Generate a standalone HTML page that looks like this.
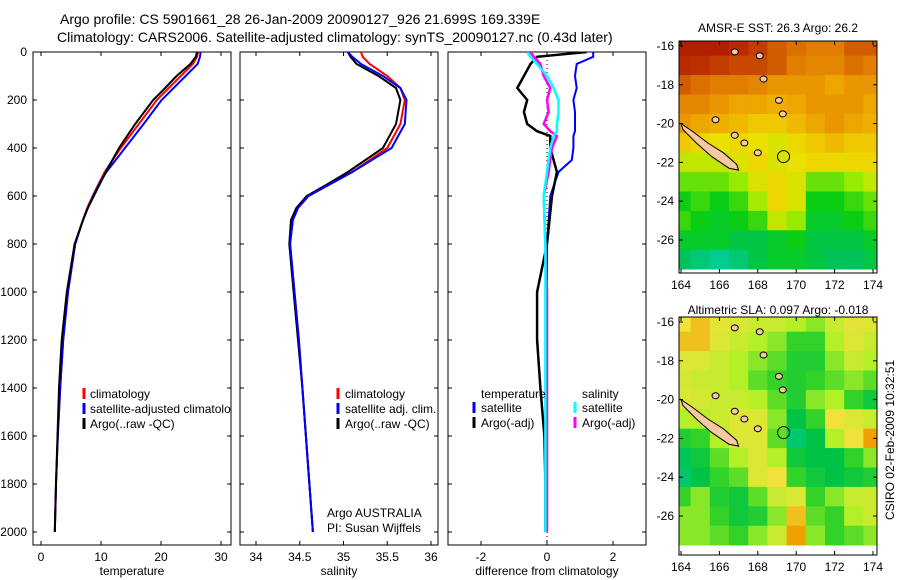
<!DOCTYPE html>
<html><head><meta charset="utf-8"><style>
body{margin:0;background:#fff}
svg{display:block;font-family:"Liberation Sans",sans-serif}
text{font-size:12px;fill:#000}
</style></head><body>
<svg id="fig" width="900" height="580" viewBox="0 0 900 580" xmlns="http://www.w3.org/2000/svg">
<defs>
<clipPath id="c1"><rect x="33" y="52" width="198" height="493"/></clipPath>
<clipPath id="c2"><rect x="240" y="52" width="198" height="493"/></clipPath>
<clipPath id="c3"><rect x="448" y="52" width="198" height="493"/></clipPath>
<clipPath id="cm1"><rect x="679" y="41" width="198" height="232"/></clipPath>
<clipPath id="cm2"><rect x="679" y="317" width="198" height="238"/></clipPath>
</defs>
<text x="60" y="24" style="font-size:14px">Argo profile: CS 5901661_28 26-Jan-2009 20090127_926 21.699S 169.339E</text>
<text x="57" y="42" style="font-size:14px">Climatology: CARS2006. Satellite-adjusted climatology: synTS_20090127.nc (0.43d later)</text>
<text x="778" y="32" text-anchor="middle">AMSR-E SST: 26.3 Argo: 26.2</text>
<text x="778" y="314" text-anchor="middle">Altimetric SLA: 0.097 Argo: -0.018</text>
<text transform="translate(894,440) rotate(-90)" text-anchor="middle">CSIRO 02-Feb-2009 10:32:51</text>
<g id="g"></g>
</svg>
<script>
// ---------- data ----------
const depthT = [0,20,50,100,150,200,300,400,500,550,600,650,700,800,1000,1200,1400,1600,1800,2000];
const tempClim = [26.2,26.0,25.3,23.3,21.3,19.3,16.3,13.3,10.6,9.6,8.6,7.7,7.0,5.7,4.5,3.7,3.2,2.8,2.5,2.3];
const tempSat  = [26.6,26.5,26.1,24.1,22.1,20.1,17.1,14.0,10.9,9.7,8.7,7.8,7.0,5.7,4.5,3.7,3.2,2.8,2.5,2.3];
const tempArgo = [26.0,25.8,24.9,22.6,20.7,18.7,15.7,13.0,10.8,9.8,8.8,7.8,7.0,5.6,4.3,3.45,3.0,2.75,2.5,2.3];
const salClim = [35.2,35.22,35.3,35.5,35.65,35.7,35.65,35.5,35.1,34.85,34.6,34.48,34.42,34.39,34.44,34.49,34.53,34.57,34.61,34.65];
const salSat  = [35.05,35.1,35.2,35.45,35.65,35.72,35.7,35.55,35.1,34.85,34.6,34.48,34.42,34.39,34.44,34.49,34.53,34.57,34.61,34.65];
const salArgo = [35.05,35.08,35.15,35.4,35.6,35.65,35.6,35.45,35.05,34.82,34.58,34.46,34.4,34.38,34.43,34.48,34.53,34.57,34.61,34.65];
const depthD = [0,20,50,100,150,200,250,300,330,350,400,450,500,600,800,1000,1200,1400,1600,1800,2000];
const dTempSat  = [1.4,1.4,0.9,0.85,0.9,0.8,0.85,0.85,0.85,0.8,0.8,0.75,0.35,0.1,0.0,0.0,0.0,0.0,0.0,0.0,0.0];
const dTempArgo = [1.2,-0.3,-0.5,-0.7,-0.9,-0.6,-0.7,-0.6,-0.3,0.1,0.1,0.2,0.3,0.15,0.0,-0.3,-0.3,-0.2,-0.08,-0.05,-0.05];
const dSalSat   = [-0.6,-0.5,-0.3,0.0,0.2,0.35,0.35,0.3,0.3,0.2,0.1,0.05,0.0,-0.1,-0.05,-0.05,-0.05,-0.05,-0.05,-0.05,-0.05];
const dSalArgo  = [-0.5,-0.4,-0.2,-0.1,0.1,0.0,0.05,-0.1,0.1,0.3,0.15,0.1,0.05,-0.1,-0.05,0.0,0.0,0.0,0.0,0.0,0.0];
const depthTicks = [0,200,400,600,800,1000,1200,1400,1600,1800,2000];
const tempTicks = [0,10,20,30];
const salTicks = [34,34.5,35,35.5,36];
const salTickLabels = ["34","34.5","35","35.5","36"];
const diffTicks = [-2,0,2];
const lonTicks = [164,166,168,170,172,174];
const latTicks = [16,18,20,22,24,26];
const mapLats = [16,17,18,19,20,21,22,23,24,25,26,27];
const mapLons = [164,165,166,167,168,169,170,171,172,173,174];
const sstGrid = [
[0.95,0.95,0.95,0.93,0.9,0.85,0.82,0.8,0.8,0.85,0.85],
[0.93,0.92,0.9,0.88,0.88,0.85,0.8,0.78,0.78,0.82,0.8],
[0.85,0.82,0.8,0.8,0.78,0.75,0.75,0.75,0.72,0.75,0.75],
[0.78,0.78,0.75,0.72,0.72,0.7,0.72,0.75,0.75,0.75,0.72],
[0.75,0.72,0.7,0.68,0.65,0.65,0.68,0.72,0.75,0.72,0.7],
[0.65,0.62,0.6,0.62,0.6,0.58,0.62,0.65,0.68,0.65,0.65],
[0.55,0.55,0.55,0.58,0.62,0.58,0.6,0.62,0.62,0.62,0.62],
[0.45,0.45,0.45,0.5,0.58,0.62,0.58,0.45,0.45,0.5,0.55],
[0.35,0.4,0.35,0.4,0.52,0.62,0.58,0.35,0.35,0.4,0.45],
[0.4,0.35,0.3,0.35,0.4,0.55,0.5,0.3,0.3,0.35,0.4],
[0.3,0.3,0.3,0.25,0.25,0.3,0.35,0.25,0.25,0.25,0.3],
[0.2,0.15,0.1,0.15,0.25,0.3,0.3,0.25,0.2,0.2,0.25]];
const slaGrid = [
[0.75,0.8,0.72,0.7,0.65,0.65,0.6,0.55,0.65,0.72,0.7],
[0.8,0.8,0.7,0.65,0.6,0.55,0.45,0.45,0.6,0.7,0.65],
[0.7,0.7,0.65,0.6,0.55,0.5,0.4,0.4,0.55,0.65,0.6],
[0.68,0.65,0.65,0.6,0.5,0.45,0.4,0.45,0.5,0.55,0.5],
[0.7,0.68,0.65,0.65,0.6,0.5,0.4,0.55,0.6,0.45,0.35],
[0.6,0.6,0.65,0.7,0.7,0.55,0.3,0.45,0.75,0.7,0.65],
[0.4,0.45,0.6,0.7,0.7,0.5,0.2,0.3,0.6,0.75,0.85],
[0.25,0.35,0.5,0.6,0.7,0.6,0.35,0.3,0.3,0.45,0.55],
[0.2,0.3,0.45,0.5,0.7,0.75,0.45,0.35,0.3,0.35,0.4],
[0.45,0.55,0.4,0.35,0.5,0.65,0.7,0.45,0.55,0.65,0.65],
[0.55,0.55,0.45,0.35,0.4,0.55,0.8,0.5,0.45,0.6,0.65],
[0.55,0.55,0.5,0.45,0.55,0.65,0.85,0.55,0.45,0.5,0.55]];
const newCal = [[164.0,20.0],[164.6,20.4],[165.4,21.0],[166.2,21.5],[166.9,22.1],[167.0,22.4],[166.5,22.3],[165.6,21.7],[164.8,21.0],[164.1,20.3]];
const argoPos = [169.34,21.70];

// ---------- helpers ----------
const NS="http://www.w3.org/2000/svg";
const G=document.getElementById('g');
function el(tag,attrs,parent){const e=document.createElementNS(NS,tag);for(const k in attrs)e.setAttribute(k,attrs[k]);(parent||G).appendChild(e);return e;}
const yD = d => 52 + d*0.24;
const xT = v => 41 + v*6;
const xS = v => 256 + (v-34)*87.5;
const xDf = v => 547 + v*33;
function lineFrom(xs,ds,xf,color,w,clip,name){
  const pts=xs.map((v,i)=>xf(v).toFixed(1)+','+yD(ds[i]).toFixed(1)).join(' ');
  const p=el('polyline',{points:pts,fill:'none',stroke:color,'stroke-width':w,'clip-path':'url(#'+clip+')'});
  
  
}
function panel(x0,clip,xf,ticks,labels,xlabel,name){
  const f=el('rect',{x:x0,y:52,width:198,height:493,fill:'none',stroke:'#000','stroke-width':1});
  
  
  depthTicks.forEach(d=>{
    el('line',{x1:x0,x2:x0+4,y1:yD(d),y2:yD(d),stroke:'#000'});
    el('line',{x1:x0+198,x2:x0+194,y1:yD(d),y2:yD(d),stroke:'#000'});
  });
  ticks.forEach((v,i)=>{
    const x=xf(v);
    el('line',{x1:x,x2:x,y1:545,y2:541,stroke:'#000'});
    el('line',{x1:x,x2:x,y1:52,y2:56,stroke:'#000'});
    const t=el('text',{x:x,y:561,'text-anchor':'middle'});t.textContent=labels[i];
    
    
  });
  const t=el('text',{x:x0+99,y:575,'text-anchor':'middle'});t.textContent=xlabel;
  
  
}
function legend(x,y,color,label,name){
  if(color) el('line',{x1:x,x2:x,y1:y-10,y2:y+1,stroke:color,'stroke-width':3});
  const t=el('text',{x:x+7,y:y});t.textContent=label;
  
  
}

// ---------- profile panels ----------
panel(33,'c1',xT,tempTicks,tempTicks.map(String),'temperature','temperature-panel');
panel(240,'c2',xS,salTicks,salTickLabels,'salinity','salinity-panel');
panel(448,'c3',xDf,diffTicks,diffTicks.map(String),'difference from climatology','difference-panel');
depthTicks.forEach(d=>{
  const t=el('text',{x:27,y:yD(d)+4,'text-anchor':'end'});t.textContent=String(d);
  
  
});
lineFrom(tempClim,depthT,xT,'#f00',2,'c1','temp-climatology-line');
lineFrom(tempSat,depthT,xT,'#00f',2,'c1','temp-satellite-line');
lineFrom(tempArgo,depthT,xT,'#000',2,'c1','temp-argo-line');
lineFrom(salClim,depthT,xS,'#f00',2,'c2','sal-climatology-line');
lineFrom(salArgo,depthT,xS,'#000',2,'c2','sal-argo-line');
lineFrom(salSat,depthT,xS,'#00f',2,'c2','sal-satellite-line');
const zl=el('line',{x1:xDf(0),x2:xDf(0),y1:52,y2:545,stroke:'#000','stroke-dasharray':'1,3'});


lineFrom(dTempSat,depthD,xDf,'#00f',2,'c3','diff-temp-satellite-line');
lineFrom(dTempArgo,depthD,xDf,'#000',2.5,'c3','diff-temp-argo-line');
lineFrom(dSalArgo,depthD,xDf,'#f0f',2.5,'c3','diff-sal-argo-line');
lineFrom(dSalSat,depthD,xDf,'#0ff',2.5,'c3','diff-sal-satellite-line');

const lg1=el('g',{'clip-path':'url(#c1)'});
[['#f00','climatology',398],['#00f','satellite-adjusted climatology',413],['#000','Argo(..raw -QC)',428]].forEach(a=>{
  el('line',{x1:84,x2:84,y1:a[2]-10,y2:a[2]+1,stroke:a[0],'stroke-width':3},lg1);
  const t=el('text',{x:90,y:a[2]},lg1);t.textContent=a[1];
  
  
});
legend(338,398,'#f00','climatology','salinity-legend-climatology');
legend(338,413,'#00f','satellite adj. clim.','salinity-legend-satellite');
legend(338,428,'#000','Argo(..raw -QC)','salinity-legend-argo');
legend(320,517,null,'Argo AUSTRALIA','argo-country-label');
legend(320,532,null,'PI: Susan Wijffels','pi-label');
legend(474,398,null,'temperature','diff-legend-temperature-heading');
legend(474,412,'#00f','satellite','diff-legend-temp-satellite');
legend(474,427,'#000','Argo(-adj)','diff-legend-temp-argo');
legend(575,398,null,'salinity','diff-legend-salinity-heading');
legend(575,412,'#0ff','satellite','diff-legend-sal-satellite');
legend(575,427,'#f0f','Argo(-adj)','diff-legend-sal-argo');

// ---------- maps ----------
function cmap(stops,v){
  for(let i=1;i<stops.length;i++){ if(v<=stops[i][0]){const a=stops[i-1],b=stops[i],t=(v-a[0])/(b[0]-a[0]);
    return 'rgb('+[0,1,2].map(k=>Math.round(a[1][k]+(b[1][k]-a[1][k])*t)).join(',')+')';}}
  return 'rgb('+stops[stops.length-1][1].join(',')+')';
}
const sstStops=[[0,[0,215,195]],[0.2,[0,195,90]],[0.35,[10,205,20]],[0.5,[150,235,0]],[0.6,[235,225,0]],[0.7,[240,175,0]],[0.8,[225,125,0]],[0.9,[195,60,0]],[1,[160,0,0]]];
const slaStops=[[0,[0,210,190]],[0.3,[0,195,70]],[0.45,[50,210,40]],[0.6,[180,240,40]],[0.75,[240,225,60]],[0.85,[240,160,0]],[1,[230,110,0]]];
function map(top,height,clip,grid,stops,name){
  const lx=lon=>681+(lon-164)*19.2, ly=lat=>top+5+(lat-16)*19.4;
  const g=el('g',{'clip-path':'url(#'+clip+')'});
  
  
  mapLats.forEach((lat,r)=>mapLons.forEach((lon,c)=>{
    const cell=el('rect',{x:lx(lon-0.5),y:ly(lat-0.5),width:19.6,height:19.8,fill:cmap(stops,grid[r][c])},g);
    
    
  }));
  const isl=el('polygon',{points:newCal.map(p=>lx(p[0])+','+ly(p[1])).join(' '),fill:'#f8c8a0',stroke:'#000','stroke-width':1},g);
  
  
  [[166.8,16.3],[168.3,17.7],[169.1,18.8],[169.3,19.5],[167.3,21.0],[168.0,21.5],[165.8,19.8],[166.8,20.6],[168.1,16.5]].forEach(p=>{
    const s=el('ellipse',{cx:lx(p[0]),cy:ly(p[1]),rx:3.5,ry:3,fill:'#f8c8a0',stroke:'#000'},g);
    
    
  });
  const m=el('circle',{cx:lx(argoPos[0]),cy:ly(argoPos[1]),r:6,fill:'none',stroke:'#000'},g);
  
  
  const f=el('rect',{x:679,y:top,width:198,height:height,fill:'none',stroke:'#000'});
  
  
  latTicks.forEach(l=>{
    el('line',{x1:679,x2:683,y1:ly(l),y2:ly(l),stroke:'#000'});
    el('line',{x1:877,x2:873,y1:ly(l),y2:ly(l),stroke:'#000'});
    const t=el('text',{x:674,y:ly(l)+4,'text-anchor':'end'});t.textContent='-'+l;
    
    
  });
  lonTicks.forEach(l=>{
    el('line',{x1:lx(l),x2:lx(l),y1:top+height,y2:top+height-4,stroke:'#000'});
    el('line',{x1:lx(l),x2:lx(l),y1:top,y2:top+4,stroke:'#000'});
    const t=el('text',{x:lx(l),y:top+height+16,'text-anchor':'middle'});t.textContent=String(l);
    
    
  });
}
map(41,232,'cm1',sstGrid,sstStops,'sst-map');
map(317,238,'cm2',slaGrid,slaStops,'sla-map');
</script>
</body></html>
